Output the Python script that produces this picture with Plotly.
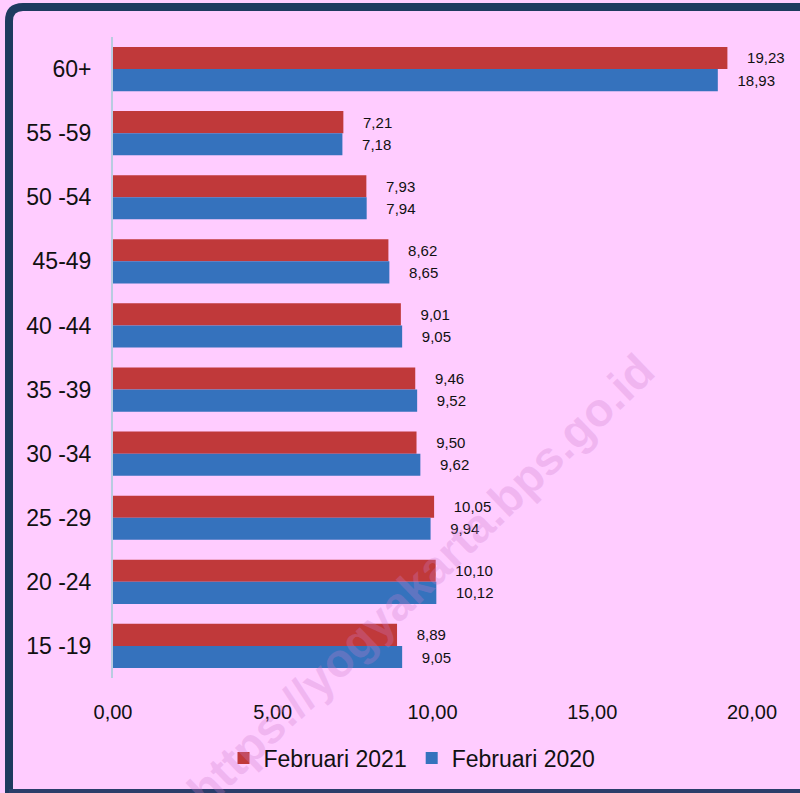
import plotly.graph_objects as go

categories = ["60+", "55 -59", "50 -54", "45-49", "40 -44", "35 -39", "30 -34", "25 -29", "20 -24", "15 -19"]
feb_2021 = [19.23, 7.21, 7.93, 8.62, 9.01, 9.46, 9.50, 10.05, 10.10, 8.89]
feb_2020 = [18.93, 7.18, 7.94, 8.65, 9.05, 9.52, 9.62, 9.94, 10.12, 9.05]
x_ticks = [0, 5, 10, 15, 20]

W, H = 800, 793
L, R, T, B = 113, 48, 37, 115
pw, ph = W - L - R, H - T - B

def px(x):
    return (x - L) / pw

def py(y):
    return (H - B - y) / ph

FONT = "Liberation Sans, Arial"
BORDER = "#1E3A5F"

fig = go.Figure()
fig.add_trace(go.Bar(
    y=categories, x=feb_2021, orientation="h", name="Februari 2021",
    marker=dict(color="#C0393A", line=dict(width=0)),
    texttemplate="    %{x:.2f}", textposition="outside",
    textfont=dict(family=FONT, size=15, color="#111111"),
    cliponaxis=False,
))
fig.add_trace(go.Bar(
    y=categories, x=feb_2020, orientation="h", name="Februari 2020",
    marker=dict(color="#3572BD", line=dict(width=0)),
    texttemplate="    %{x:.2f}", textposition="outside",
    textfont=dict(family=FONT, size=15, color="#111111"),
    cliponaxis=False,
))

# border: left, top, bottom lines with rounded top-left corner
bx, by_top, by_bot = 9, 7, 793
r = 14
corner = f"M {px(bx)},{py(by_top + r)} Q {px(bx)},{py(by_top)} {px(bx + r)},{py(by_top)}"
shapes = [
    dict(type="line", xref="paper", yref="paper", x0=px(bx), x1=px(bx),
         y0=py(by_top + r), y1=py(by_bot), line=dict(color=BORDER, width=8), layer="above"),
    dict(type="line", xref="paper", yref="paper", x0=px(bx + r), x1=px(800),
         y0=py(by_top), y1=py(by_top), line=dict(color=BORDER, width=8), layer="above"),
    dict(type="line", xref="paper", yref="paper", x0=px(bx), x1=px(800),
         y0=py(by_bot - 1), y1=py(by_bot - 1), line=dict(color="#2A3E6A", width=6), layer="above"),
    dict(type="path", xref="paper", yref="paper", path=corner,
         line=dict(color=BORDER, width=8), fillcolor="rgba(0,0,0,0)", layer="above"),
]

fig.update_layout(
    width=W, height=H,
    margin=dict(l=L, r=R, t=T, b=B),
    paper_bgcolor="#FFCCFF", plot_bgcolor="#FFCCFF",
    separators=",.",
    barmode="group", bargap=0.31, bargroupgap=0,
    font=dict(family=FONT, color="#111111"),
    xaxis=dict(range=[0, 20], tickvals=x_ticks, tickformat=".2f",
               showgrid=False, zeroline=False, showline=False,
               ticklabelstandoff=20,
               tickfont=dict(size=20, family=FONT)),
    yaxis=dict(autorange="reversed", showgrid=False, zeroline=False,
               showline=True, linecolor="#B8CCE0", linewidth=2,
               ticklabelstandoff=15, tickfont=dict(size=23)),
    legend=dict(orientation="h", x=px(412), xanchor="center", y=py(758), yanchor="middle",
                font=dict(size=23, family=FONT),
                bgcolor="rgba(0,0,0,0)", itemwidth=30),
    showlegend=True,
    shapes=shapes,
    annotations=[dict(text="<b>https://yogyakarta.bps.go.id</b>", xref="paper", yref="paper",
                      x=px(420), y=py(580), xanchor="center", yanchor="middle",
                      showarrow=False, textangle=-44,
                      font=dict(size=47, color="rgba(205,125,205,0.28)", family=FONT))],
)

fig.write_html("out.html", config={"displayModeBar": False},
               post_script="document.body.style.margin='0';document.body.style.overflow='hidden';")
